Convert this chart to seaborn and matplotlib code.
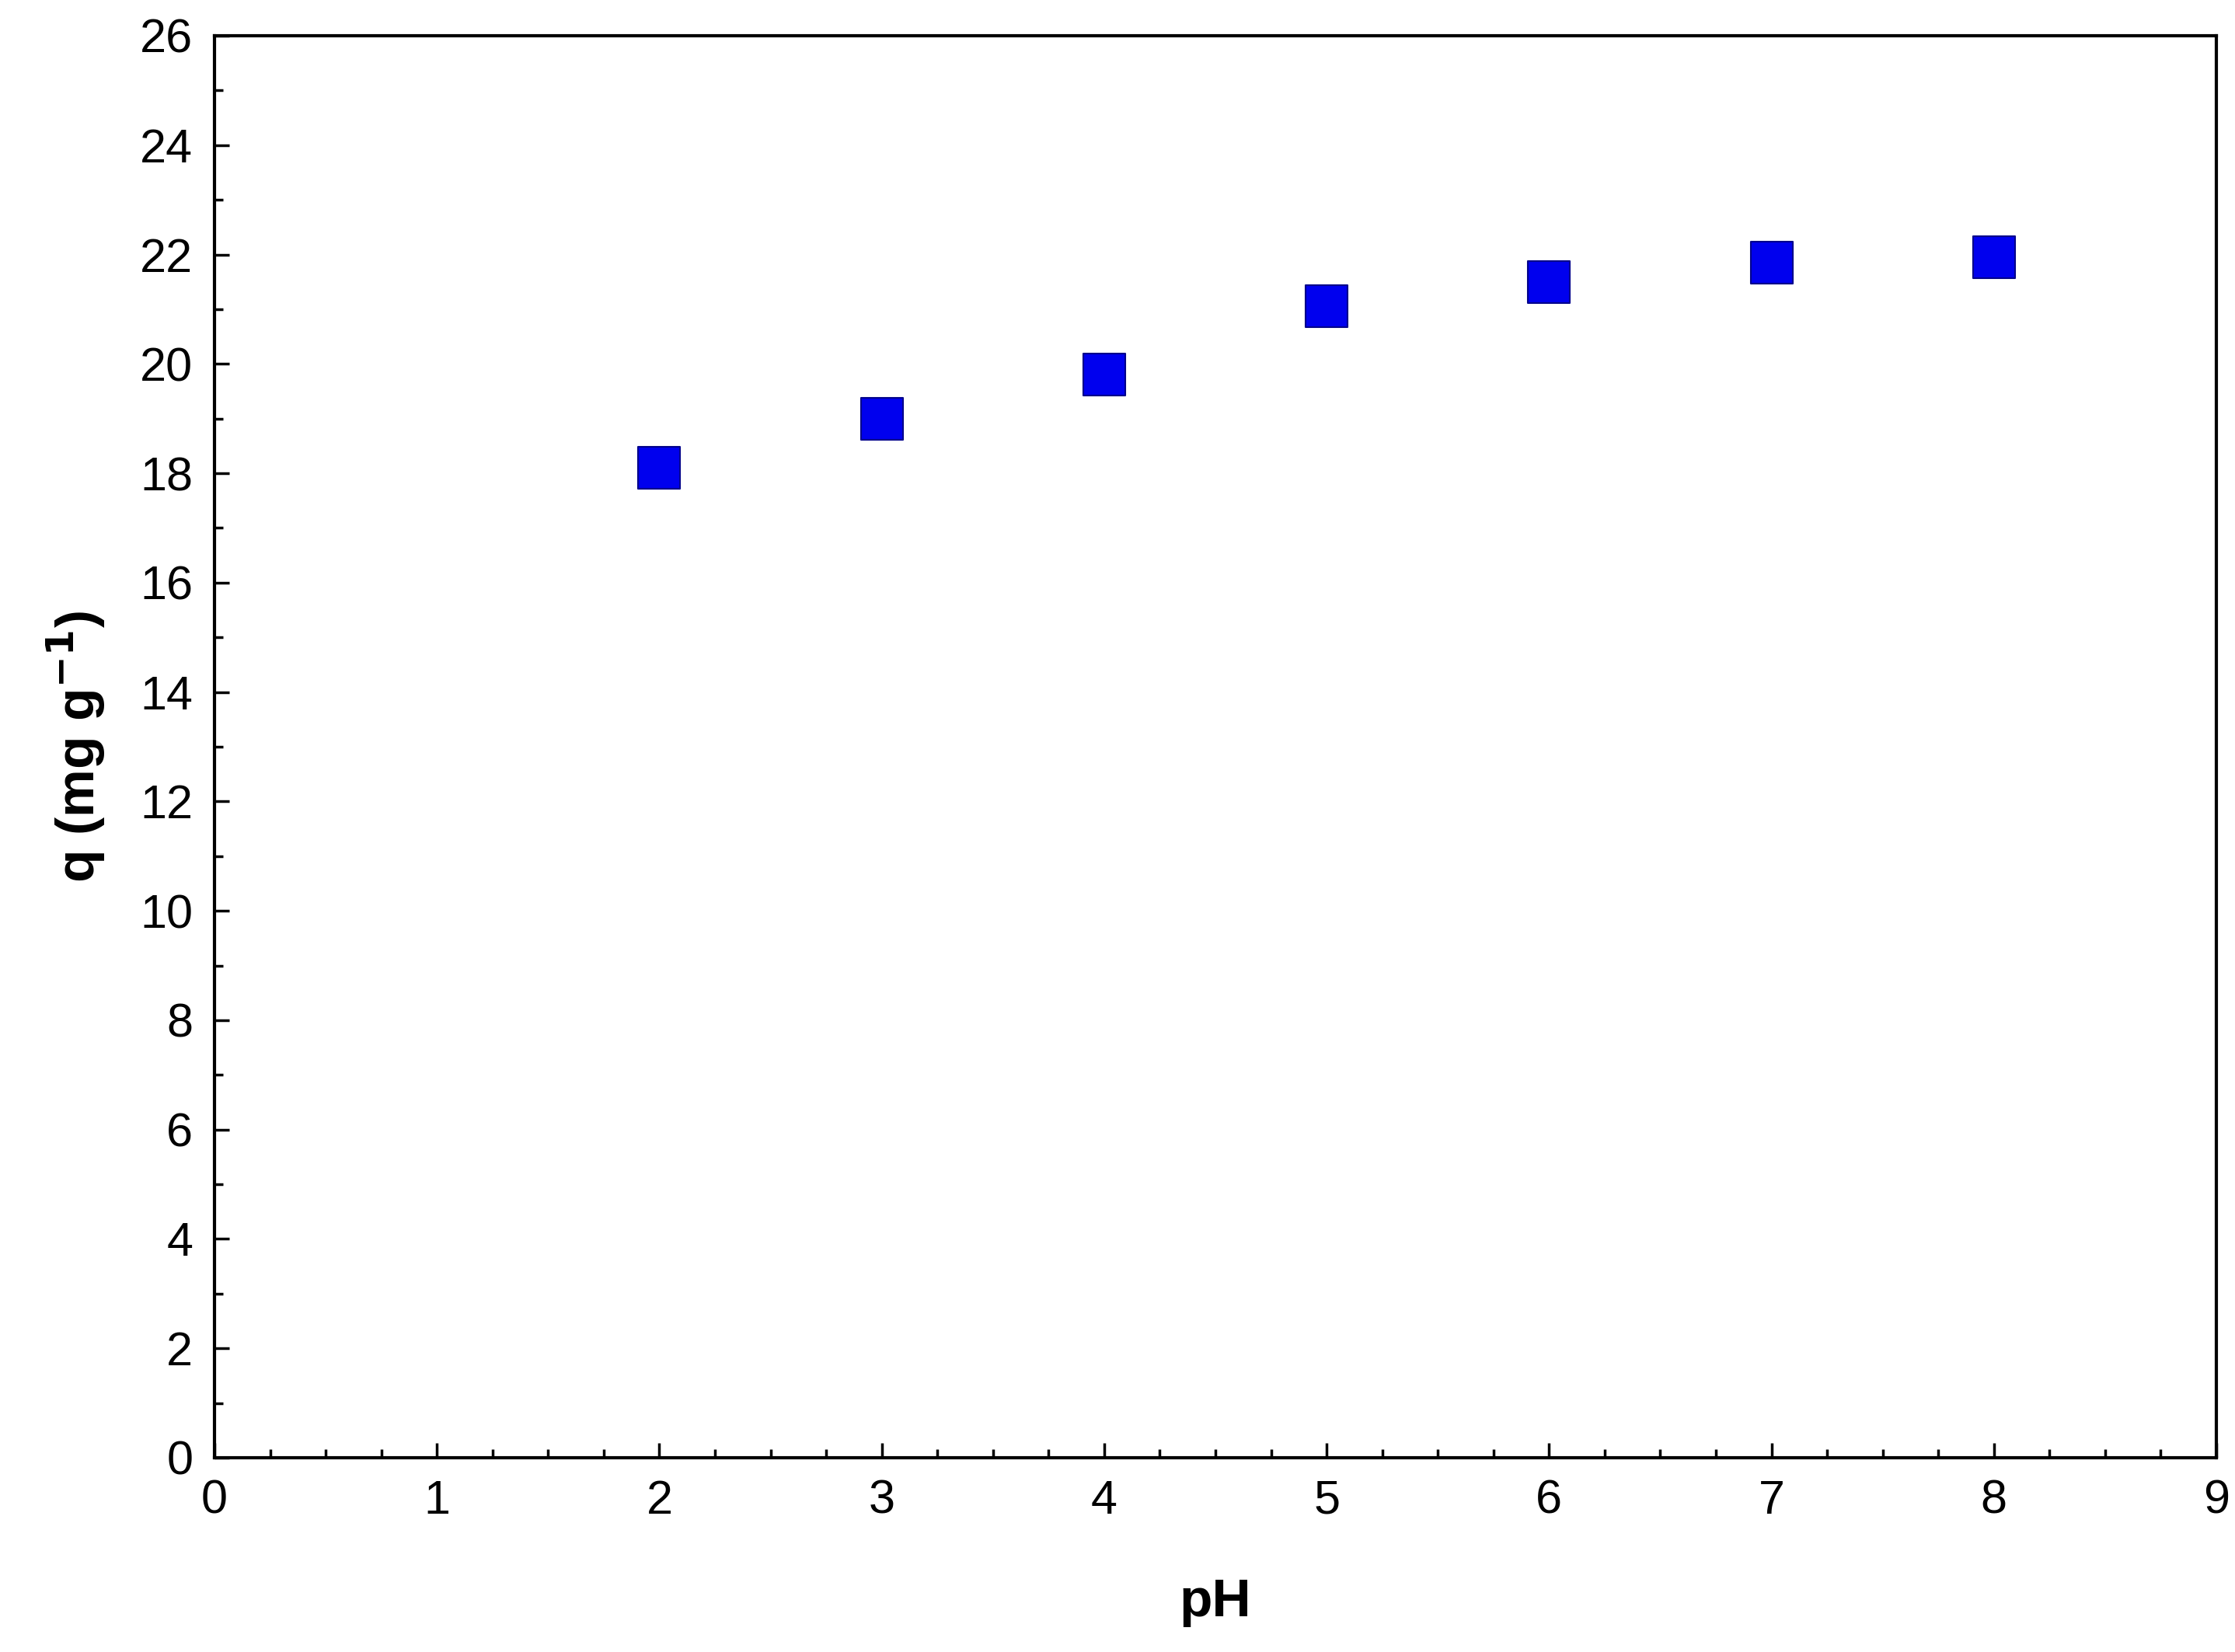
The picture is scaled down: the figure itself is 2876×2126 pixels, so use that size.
import matplotlib
matplotlib.use("Agg")
import matplotlib.pyplot as plt
import seaborn as sns
import pandas as pd
from matplotlib.ticker import MultipleLocator

ph = [2, 3, 4, 5, 6, 7, 8]
q = [18.1, 19.0, 19.8, 21.05, 21.5, 21.85, 21.95]

sns.set_style("ticks")
plt.rcParams['font.family'] = ['Liberation Sans', 'DejaVu Sans']

df = pd.DataFrame({'pH': ph, 'q': q})
fig = plt.figure(figsize=(28.76, 21.26), dpi=100)
ax = fig.add_axes([276 / 2876, 1 - 1876 / 2126, (2852 - 276) / 2876, (1876 - 46) / 2126])

sns.scatterplot(data=df, x='pH', y='q', marker='s', s=1500, color='#0000ee',
                edgecolor='#00008b', linewidth=1.5, ax=ax, legend=False)

ax.set_xlim(0, 9)
ax.set_ylim(0, 26)
ax.xaxis.set_major_locator(MultipleLocator(1))
ax.xaxis.set_minor_locator(MultipleLocator(0.25))
ax.yaxis.set_major_locator(MultipleLocator(2))
ax.yaxis.set_minor_locator(MultipleLocator(1))
ax.tick_params(which='both', direction='in', width=2.5, colors='black')
ax.tick_params(which='major', length=14, labelsize=44, pad=20, labelcolor='black')
ax.tick_params(which='minor', length=8)
for sp in ax.spines.values():
    sp.set_linewidth(3)
    sp.set_color('black')

ax.set_xlabel('pH', fontsize=50, fontweight='bold', labelpad=50, color='black')
ax.set_ylabel(r'q (mg g$^{\mathbf{-1}}$)', fontsize=50, fontweight='bold', labelpad=30, color='black')

fig.savefig('out.png', dpi=100)
